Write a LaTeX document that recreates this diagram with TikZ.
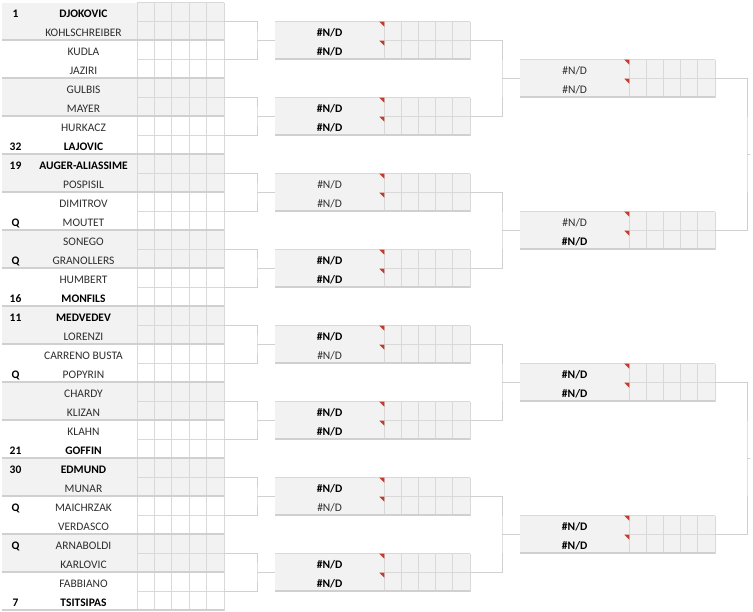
\documentclass[tikz,border=0pt]{standalone}
\usepackage{fontspec}
\setmainfont{Carlito}
\definecolor{cellgrey}{HTML}{F2F2F2}
\definecolor{gridgrey}{HTML}{D9D9D9}
\definecolor{rulegrey}{HTML}{D0D0D0}
\definecolor{notered}{HTML}{C43B2B}
\definecolor{plaintext}{HTML}{2E2E2E}

\begin{document}
\begin{tikzpicture}[x=1pt, y=-1pt,
    every node/.style={inner sep=0pt, outer sep=0pt},
    pairbox/.style={minimum width=222.5pt, minimum height=38pt, anchor=north west},
    matchbox/.style={fill=cellgrey, minimum width=195pt, minimum height=38pt, anchor=north west},
    cell/.style={draw=gridgrey, line width=0.8pt},
    pairrule/.style={draw=rulegrey, line width=1.8pt},
    bracket/.style={draw=rulegrey, line width=1pt},
    player/.style={anchor=base, text=plaintext, font=\fontsize{11.5}{13}\selectfont},
    seeded/.style={anchor=base, text=black, font=\fontsize{11.5}{13}\selectfont\bfseries},
    commentmark/.style={fill=notered}
  ]
  \useasboundingbox (0,0) rectangle (753,611);

  % first round: pairs, grey and white in turn
  \foreach \k in {0,2,...,14} \node[pairbox, fill=cellgrey] (r1m\k) at (1.5,{2.7+38*\k}) {};
  \foreach \k in {1,3,...,15} \node[pairbox] (r1m\k) at (1.5,{2.7+38*\k}) {};
  \foreach \i in {0,...,5} \draw[cell] ({137+17.4*\i},2.7) -- ({137+17.4*\i},610.7);
  \foreach \r in {0,...,31} \draw[cell] (137,{2.7+19*\r}) -- (224,{2.7+19*\r});
  \foreach \k in {0,...,15} \draw[pairrule] ([yshift=0.9pt]r1m\k.south west) -- ([yshift=0.9pt]r1m\k.south east);

  % second round
  \foreach \k in {0,...,7} {
    \node[matchbox] (r2m\k) at (275,{21.7+76*\k}) {};
    \draw[cell] (r2m\k.north west) -- (r2m\k.north east);
    \draw[cell] (384.3,{40.7+76*\k}) -- (470,{40.7+76*\k});
    \foreach \i in {0,...,5} \draw[cell] ({384.3+17.14*\i},{21.7+76*\k}) -- ++(0,38);
    \draw[pairrule] ([yshift=0.9pt]r2m\k.south west) -- ([yshift=0.9pt]r2m\k.south east);
    \fill[commentmark] (379.3,{21.7+76*\k}) -- ++(5,0) -- ++(0,5) -- cycle;
    \fill[commentmark] (379.3,{40.7+76*\k}) -- ++(5,0) -- ++(0,5) -- cycle;
  }

  % third round
  \foreach \k in {0,...,3} {
    \node[matchbox] (r3m\k) at (520,{59.7+152*\k}) {};
    \draw[cell] (r3m\k.north west) -- (r3m\k.north east);
    \draw[cell] (629.3,{78.7+152*\k}) -- (715,{78.7+152*\k});
    \foreach \i in {0,...,5} \draw[cell] ({629.3+17.14*\i},{59.7+152*\k}) -- ++(0,38);
    \draw[pairrule] ([yshift=0.9pt]r3m\k.south west) -- ([yshift=0.9pt]r3m\k.south east);
    \fill[commentmark] (624.3,{59.7+152*\k}) -- ++(5,0) -- ++(0,5) -- cycle;
    \fill[commentmark] (624.3,{78.7+152*\k}) -- ++(5,0) -- ++(0,5) -- cycle;
  }

  % players
  \foreach \r/\who in {0/DJOKOVIC, 7/LAJOVIC, 8/AUGER-ALIASSIME, 15/MONFILS,
      16/MEDVEDEV, 23/GOFFIN, 24/EDMUND, 31/TSITSIPAS}
    \node[seeded] (pl\r) at (83.5,{17.2+19*\r}) {\who};
  \foreach \r/\who in {1/KOHLSCHREIBER, 2/KUDLA, 3/JAZIRI, 4/GULBIS, 5/MAYER, 6/HURKACZ,
      9/POSPISIL, 10/DIMITROV, 11/MOUTET, 12/SONEGO, 13/GRANOLLERS, 14/HUMBERT,
      17/LORENZI, 18/CARRENO BUSTA, 19/POPYRIN, 20/CHARDY, 21/KLIZAN, 22/KLAHN,
      25/MUNAR, 26/MAICHRZAK, 27/VERDASCO, 28/ARNABOLDI, 29/KARLOVIC, 30/FABBIANO}
    \node[player] (pl\r) at (83.5,{17.2+19*\r}) {\who};
  \foreach \r/\s in {0/1, 7/32, 8/19, 11/Q, 13/Q, 15/16, 16/11, 19/Q,
      23/21, 24/30, 26/Q, 28/Q, 31/7}
    \node[seeded] (sd\r) at (15.5,{17.2+19*\r}) {\s};

  % results of the later rounds
  \foreach \k/\up/\dn in {0/seeded/seeded, 1/seeded/seeded, 2/player/player, 3/seeded/seeded,
      4/seeded/player, 5/seeded/seeded, 6/seeded/player, 7/seeded/seeded} {
    \node[\up] (r2t\k) at (329.6,{36.2+76*\k}) {\#N/D};
    \node[\dn] (r2b\k) at (329.6,{55.2+76*\k}) {\#N/D};
  }
  \foreach \k/\up/\dn in {0/player/player, 1/player/seeded, 2/seeded/seeded, 3/seeded/seeded} {
    \node[\up] (r3t\k) at (574.7,{74.2+152*\k}) {\#N/D};
    \node[\dn] (r3b\k) at (574.7,{93.2+152*\k}) {\#N/D};
  }

  % brackets
  \foreach \j in {0,...,7} {
    \pgfmathtruncatemacro\a{2*\j}
    \pgfmathtruncatemacro\b{2*\j+1}
    \coordinate (j1-\j) at (257,{40.7+76*\j});
    \draw[bracket] (r1m\a.east) -| (j1-\j) |- (r1m\b.east);
    \draw[bracket] (j1-\j) -- (r2m\j.west);
  }
  \foreach \j in {0,...,3} {
    \pgfmathtruncatemacro\a{2*\j}
    \pgfmathtruncatemacro\b{2*\j+1}
    \coordinate (j2-\j) at (502,{78.7+152*\j});
    \draw[bracket] (r2m\a.east) -| (j2-\j) |- (r2m\b.east);
    \draw[bracket] (j2-\j) -- (r3m\j.west);
  }
  \foreach \j in {0,1} {
    \pgfmathtruncatemacro\a{2*\j}
    \pgfmathtruncatemacro\b{2*\j+1}
    \coordinate (j3-\j) at (747,{154.7+304*\j});
    \coordinate (out\j) at (750,{154.7+304*\j});
    \draw[bracket] (r3m\a.east) -| (j3-\j) |- (r3m\b.east);
    \draw[bracket] (j3-\j) -- (out\j);
  }
\end{tikzpicture}
\end{document}
